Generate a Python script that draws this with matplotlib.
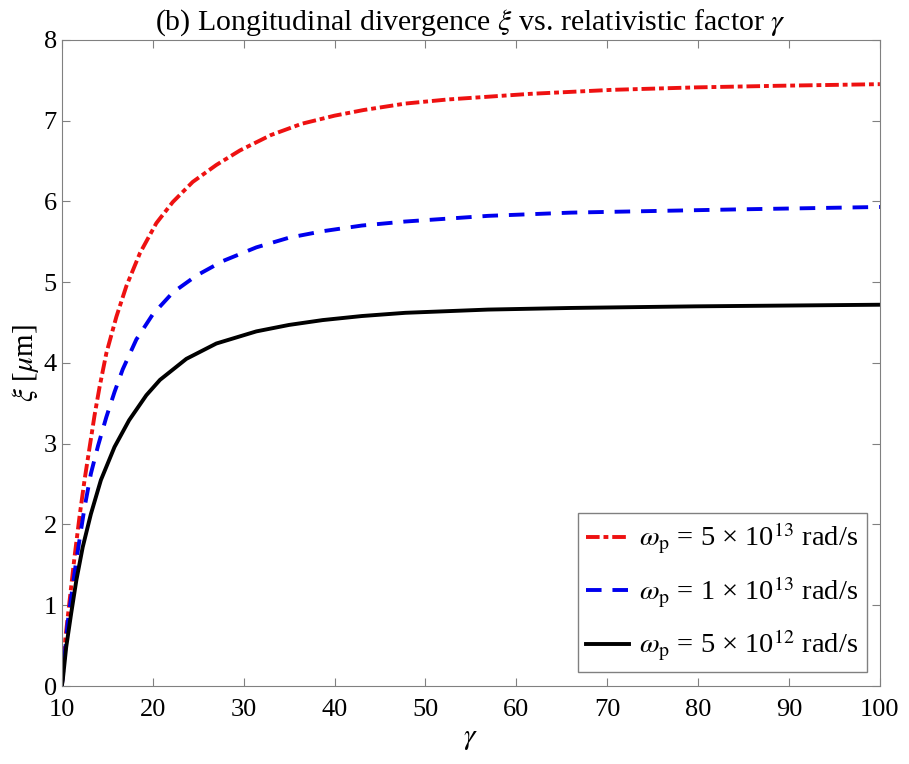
import numpy as np
import matplotlib
matplotlib.use('Agg')
from matplotlib import pyplot as plt

plt.rcParams['font.family'] = ['Liberation Serif', 'DejaVu Serif']
plt.rcParams['mathtext.fontset'] = 'stix'

# values
gamma_red = [10, 10.4, 10.85, 11.4, 11.95, 12.5, 13.05, 13.6, 14.15, 14.9, 16.0, 17.1,
             18.6, 20.4, 22.2, 24.4, 27.0, 29.6, 33.0, 36.4, 40.0, 43.2, 47.8, 52.4,
             61.5, 70.6, 79.7, 88.8, 100]
xi_red = [0, 0.6, 1.05, 1.6, 2.1, 2.55, 2.95, 3.35, 3.7, 4.12, 4.57, 4.95,
          5.36, 5.73, 5.99, 6.24, 6.45, 6.63, 6.82, 6.96, 7.06, 7.13, 7.21, 7.26,
          7.33, 7.38, 7.41, 7.43, 7.45]

gamma_blue = [10, 10.66, 11.6, 12.5, 13.2, 14.0, 14.9, 15.8, 16.7, 18.2, 20.0, 22.2,
              24.8, 27.7, 31.4, 35.0, 38.7, 43.0, 47.8, 56.9, 66.0, 75.1, 84.3, 100]
xi_blue = [0, 0.8, 1.56, 2.21, 2.63, 2.98, 3.33, 3.64, 3.92, 4.29, 4.6, 4.87,
           5.08, 5.26, 5.43, 5.55, 5.63, 5.70, 5.75, 5.82, 5.86, 5.88, 5.90, 5.93]

gamma_black = [10, 10.11, 10.48, 11.03, 11.6, 12.3, 13.2, 14.3, 15.8, 17.4, 19.3, 20.8,
               23.7, 27.0, 31.4, 35.0, 38.7, 43.0, 47.8, 56.9, 66.0, 79.7, 100]
xi_black = [0, 0.08, 0.48, 0.90, 1.31, 1.72, 2.13, 2.55, 2.96, 3.29, 3.60, 3.79,
            4.05, 4.24, 4.39, 4.47, 4.53, 4.58, 4.62, 4.66, 4.68, 4.70, 4.72]

labels = [r'$\omega_{\mathrm{p}}$ = 5 × 10$^{13}$ rad/s',
          r'$\omega_{\mathrm{p}}$ = 1 × 10$^{13}$ rad/s',
          r'$\omega_{\mathrm{p}}$ = 5 × 10$^{12}$ rad/s']

fig = plt.figure(figsize=(9.09, 7.64), dpi=100)
ax = fig.add_axes([0.068, 0.102, 0.9, 0.846])

ax.plot(gamma_red, xi_red, color='#ee1111', lw=2.8, linestyle=(0, (3.5, 1, 1.25, 1)), label=labels[0])
ax.plot(gamma_blue, xi_blue, color='#0000ee', lw=2.8, linestyle=(0, (4, 2.8)), label=labels[1])
ax.plot(gamma_black, xi_black, color='black', lw=2.8, label=labels[2])

ax.set_xlim(10, 100)
ax.set_ylim(0, 8)
ax.set_xticks(np.arange(10, 101, 10))
ax.set_yticks(np.arange(0, 9, 1))
ax.tick_params(direction='in', top=True, right=True, labelsize=19, color='#808080', length=6)
ax.tick_params(axis='x', pad=9)
for s in ax.spines.values():
    s.set_color('#808080')

ax.set_xlabel(r'$\gamma$', fontsize=21, labelpad=4)
ax.set_ylabel(r'$\xi$ [$\mu$m]', fontsize=21, labelpad=2)
ax.set_title(r'(b) Longitudinal divergence $\xi$ vs. relativistic factor $\gamma$', fontsize=21.5, pad=7)

leg = ax.legend(loc='lower right', bbox_to_anchor=(0.984, 0.022), borderaxespad=0,
                fontsize=20.5, handlelength=1.5, handletextpad=0.35, labelspacing=0.65,
                borderpad=0.3, fancybox=False, framealpha=1, edgecolor='#808080')
leg.get_frame().set_linewidth(1.0)

fig.savefig('out.png', dpi=100)
